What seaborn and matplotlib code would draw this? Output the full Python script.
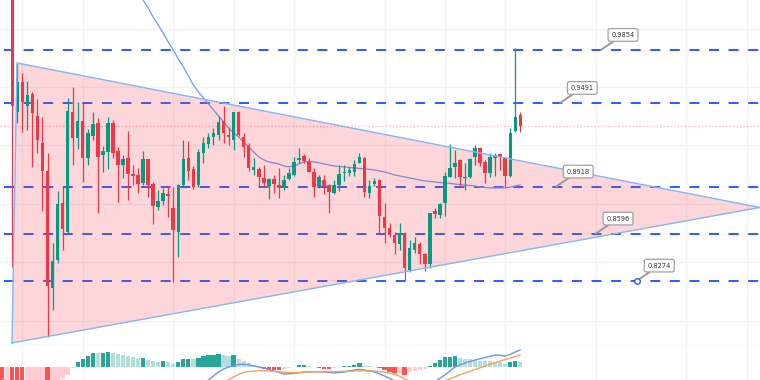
import numpy as np
import pandas as pd
import matplotlib.pyplot as plt
import seaborn as sns

sns.set_style('white')
plt.rcParams['font.family'] = ['DejaVu Sans']
plt.rcParams['lines.scale_dashes'] = False

# candle index of the first bar (two bars sit above the visible price range)
first_idx = -2

opens = [1.090, 1.080, 1.060, 0.9431, 0.9633, 0.9473, 0.9551, 0.9402, 0.9215, 0.9025,
         0.8222, 0.8416, 0.8808, 0.8610, 0.9431, 0.9249, 0.9370, 0.9116, 0.9267, 0.9352,
         0.9135, 0.9158, 0.9352, 0.9164, 0.9066, 0.9112, 0.9003, 0.8998, 0.8945, 0.9105,
         0.8936, 0.8781, 0.8822, 0.8868, 0.8770, 0.8610, 0.8929, 0.9112, 0.9037, 0.8929,
         0.9151, 0.9208, 0.9256, 0.9272, 0.9370, 0.9272, 0.9238, 0.9431, 0.9260, 0.9203,
         0.9032, 0.9037, 0.8975, 0.8922, 0.8970, 0.8929, 0.8907, 0.8968, 0.8998, 0.9101,
         0.9128, 0.9089, 0.9021, 0.8922, 0.8964, 0.8929, 0.8872, 0.8929, 0.9010, 0.9010,
         0.9021, 0.9082, 0.9112, 0.8872, 0.8934, 0.8964, 0.8712, 0.8637, 0.8587, 0.8523,
         0.8603, 0.8347, 0.8484, 0.8525, 0.8457, 0.8386, 0.8753, 0.8724, 0.8804, 0.8986,
         0.9055, 0.9101, 0.8975, 0.8986, 0.9119, 0.9181, 0.9089, 0.9014, 0.9112, 0.9142,
         0.9112, 0.8991, 0.9301, 0.9409]
highs = [1.100, 1.090, 1.070, 0.9763, 0.9694, 0.9642, 0.9564, 0.9518, 0.9397, 0.9151,
         0.8530, 0.8890, 0.8918, 0.9523, 0.9603, 0.9496, 0.9489, 0.9311, 0.9431, 0.9386,
         0.9197, 0.9393, 0.9375, 0.9192, 0.9135, 0.9301, 0.9066, 0.9044, 0.9162, 0.9107,
         0.8952, 0.8895, 0.8907, 0.8922, 0.8918, 0.8936, 0.9238, 0.9231, 0.9059, 0.9174,
         0.9260, 0.9288, 0.9318, 0.9402, 0.9470, 0.9329, 0.9430, 0.9438, 0.9283, 0.9215,
         0.9112, 0.9051, 0.9066, 0.8975, 0.8998, 0.9044, 0.8998, 0.9044, 0.9123, 0.9181,
         0.9142, 0.9112, 0.9044, 0.8998, 0.8998, 0.8935, 0.8964, 0.9066, 0.9066, 0.9055,
         0.9101, 0.9146, 0.9123, 0.8964, 0.8975, 0.8970, 0.8804, 0.8667, 0.8610, 0.8671,
         0.8606, 0.8553, 0.8575, 0.8541, 0.8461, 0.8740, 0.8770, 0.8804, 0.9020, 0.9210,
         0.9169, 0.9105, 0.9078, 0.9112, 0.9203, 0.9188, 0.9101, 0.9146, 0.9146, 0.9151,
         0.9123, 0.9318, 0.9870, 0.9431]
lows = [1.070, 1.050, 0.8368, 0.9352, 0.9294, 0.9306, 0.9055, 0.9151, 0.8751, 0.7890,
        0.8073, 0.8397, 0.8484, 0.8600, 0.9066, 0.9174, 0.8952, 0.9066, 0.9238, 0.8740,
        0.9020, 0.9037, 0.9112, 0.8815, 0.8975, 0.8827, 0.8929, 0.8872, 0.8929, 0.8849,
        0.8660, 0.8758, 0.8792, 0.8712, 0.8267, 0.8438, 0.8922, 0.8964, 0.8900, 0.8918,
        0.9078, 0.9180, 0.9203, 0.9238, 0.9215, 0.9203, 0.9169, 0.9265, 0.9119, 0.9027,
        0.8998, 0.8922, 0.8918, 0.8831, 0.8872, 0.8838, 0.8895, 0.8964, 0.8991, 0.9082,
        0.9078, 0.9015, 0.8849, 0.8910, 0.8868, 0.8735, 0.8868, 0.8890, 0.8959, 0.8991,
        0.8991, 0.9078, 0.8849, 0.8838, 0.8922, 0.8603, 0.8534, 0.8575, 0.8457, 0.8484,
        0.8279, 0.8336, 0.8461, 0.8388, 0.8340, 0.8359, 0.8705, 0.8701, 0.8717, 0.8982,
        0.8975, 0.8918, 0.8895, 0.8975, 0.9066, 0.9060, 0.8945, 0.8982, 0.8991, 0.9032,
        0.8918, 0.8986, 0.9294, 0.9294]
closes = [1.080, 1.060, 0.9470, 0.9633, 0.9496, 0.9546, 0.9425, 0.9238, 0.9027, 0.8240,
          0.8411, 0.8799, 0.8628, 0.9436, 0.9253, 0.9370, 0.9116, 0.9283, 0.9347, 0.9119,
          0.9162, 0.9356, 0.9151, 0.9066, 0.9105, 0.9003, 0.8991, 0.8934, 0.9105, 0.8929,
          0.8786, 0.8822, 0.8872, 0.8854, 0.8621, 0.8929, 0.9107, 0.9027, 0.8918, 0.9158,
          0.9215, 0.9256, 0.9288, 0.9359, 0.9283, 0.9256, 0.9427, 0.9272, 0.9192, 0.9044,
          0.9055, 0.8986, 0.8941, 0.8968, 0.8936, 0.8911, 0.8964, 0.9010, 0.9089, 0.9116,
          0.9094, 0.9021, 0.8914, 0.8982, 0.8922, 0.8884, 0.8929, 0.9005, 0.9016, 0.9032,
          0.9071, 0.9123, 0.8884, 0.8922, 0.8957, 0.8717, 0.8633, 0.8587, 0.8534, 0.8598,
          0.8359, 0.8496, 0.8530, 0.8457, 0.8388, 0.8736, 0.8731, 0.8797, 0.8993, 0.9048,
          0.9082, 0.8982, 0.8986, 0.9107, 0.9181, 0.9078, 0.9014, 0.9119, 0.9135, 0.9119,
          0.8991, 0.9288, 0.9393, 0.9334]

# moving average (starts above the chart)
ma_values = [np.nan] * 24 + [
    1.0422, 1.0367, 1.0313, 1.0251, 1.0196, 1.0142, 1.0080, 1.0025, 0.9970, 0.9909,
    0.9854, 0.9792, 0.9738, 0.9676, 0.9614, 0.9566, 0.9525, 0.9484, 0.9443, 0.9402,
    0.9361, 0.9320, 0.9286, 0.9258, 0.9224, 0.9190, 0.9155, 0.9121, 0.9101, 0.9087,
    0.9080, 0.9073, 0.9059, 0.9053, 0.9059, 0.9073, 0.9087, 0.9090, 0.9087, 0.9080,
    0.9073, 0.9066, 0.9059, 0.9056, 0.9053, 0.9049, 0.9046, 0.9043, 0.9039, 0.9036,
    0.9032, 0.9025, 0.9018, 0.9008, 0.8998, 0.8991, 0.8984, 0.8977, 0.8970, 0.8963,
    0.8957, 0.8953, 0.8950, 0.8946, 0.8943, 0.8940, 0.8936, 0.8932, 0.8929, 0.8926,
    0.8922, 0.8915, 0.8912, 0.8909, 0.8909, 0.8909, 0.8909, 0.8915, 0.8922, 0.8929]

# MACD pane (units of 1e-4)
macd_hist = [-16, -15, -19, -22, -24, -23, -21.5, -20, -18.5, -19.5,
             -17.5, -14, -11.8, -7.3, -0.5, 5.6, 8.3, 11.7, 14, 13.9,
             14.2, 15.3, 14, 13, 12.3, 11.3, 10, 9, 9.7, 7.3,
             6.3, 5.7, 5.9, 5.6, 3.3, 5, 8, 8.3, 8, 9.7,
             11.3, 12.3, 12.5, 13, 12.3, 11.7, 11.9, 8.3, 6.7, 4,
             2.3, 1.3, -1.3, -2.5, -2.8, -3, -1.5, -0.8, 0.3, 2.3,
             2.5, 1, 0.4, -0.3, -1.2, -1.3, -0.6, 0.3, 1.2, 1.3,
             2, 4, 1.5, 1.2, 0.8, -0.5, -3, -5, -6, -5.5,
             -7.7, -5, -4, -3, -2, 1, 4, 7.3, 10, 10.7,
             11, 9, 8.3, 8, 7.3, 6.7, 6.3, 6, 5.7, 5.2,
             3.5, 5, 6, 5.5]
macd_line = [-30, -32, -35, -37, -39, -40, -40, -40, -40, -41,
             -40, -38, -36, -33, -31, -29, -27, -25, -23.5, -22.5,
             -21.5, -20.5, -20, -19.5, -19.5, -19.5, -19.5, -19.5, -19.5, -19.5,
             -19.5, -19.5, -19.5, -19.5, -20, -19.5, -18.5, -18, -17.5, -16.5,
             -15, -12.7, -8.7, -4.7, -1.7, 0.3, 1.8, 2.8, 3.0, 2.3,
             1.3, 0.3, -0.7, -2.2, -3.7, -5.2, -6.7, -6.5, -6.2, -5.5,
             -4.7, -4.5, -4.4, -4.5, -4.7, -5.2, -5.7, -5.2, -4.7, -3.7,
             -2.7, -2.0, -2.7, -3.7, -4.7, -6.5, -8.7, -11, -13.7, -15,
             -17, -18, -19, -19.5, -20, -18.5, -14.7, -11, -7.7, -3.7,
             0.3, 2.3, 4.3, 5.8, 7.3, 8.5, 9.8, 11, 12.3, 12,
             11.3, 13, 15.3, 17.3]
signal_line = [-11.5, -14, -17, -20, -23, -26, -28, -30, -32, -33,
               -34, -35, -35, -35, -34, -33, -32, -31, -30, -29.5,
               -29, -28.5, -28, -27.5, -27, -26.5, -26, -25.5, -25, -25,
               -25, -25, -25, -25, -25, -25, -25, -24.5, -24, -23,
               -21.5, -19.5, -17.5, -15.5, -14, -12.5, -9.5, -7, -5.2, -4.3,
               -3.8, -3.5, -3.5, -3.7, -4, -4.5, -5, -5.3, -5.5, -5.3,
               -5, -4.8, -4.6, -4.5, -4.5, -4.4, -4.3, -4.2, -4, -3.9,
               -3.7, -3.6, -3.5, -3.6, -3.7, -4.2, -5, -6, -7, -9,
               -11.5, -14, -16, -17, -18, -18.5, -18, -16.5, -14, -11.5,
               -9.5, -7.5, -5.7, -4, -2.3, -0.5, 1.2, 3, 4.7, 6.3,
               7.8, 9.2, 10.8, 12.3]

# horizontal levels and where their callouts are anchored (candle index)
levels = [0.9854, 0.9491, 0.8918, 0.8596, 0.8274]
label_idx = [117.0, 108.9, 108.1, 116.0, 124.2]

# triangle drawing (candle index, price)
tri_idx = [-0.06, 0.93, 148.65]
tri_price = [0.7847, 0.9765, 0.8775]

# time grid (candle index) and price grid
time_grid = [2, 14, 32, 44, 56, 74, 86, 98, 116, 134, 146]
price_grid = [0.80, 0.84, 0.88, 0.92, 0.96, 1.00]

GREEN = '#089981'
RED = '#f23645'
LEVEL_BLUE = '#2962ff'
GRID = '#f0f3fa'

df = pd.DataFrame({'open': opens, 'high': highs, 'low': lows, 'close': closes,
                   'ma': ma_values, 'hist': macd_hist, 'macd': macd_line,
                   'signal': signal_line})
df['idx'] = np.arange(first_idx, first_idx + len(df))

fig = plt.figure(figsize=(7.6, 3.8), dpi=100)
ax = fig.add_axes([0, 35 / 380, 1, 345 / 380])
ax2 = fig.add_axes([0, 0, 1, 35 / 380])

# grids
for g in time_grid:
    ax.axvline(g, color=GRID, lw=1, zorder=0)
    ax2.axvline(g, color=GRID, lw=1, zorder=0)
for p in price_grid:
    ax.axhline(p, color=GRID, lw=1, zorder=0)

# dashed levels
for lvl in levels:
    ax.plot([-1.65, 150], [lvl, lvl], color=LEVEL_BLUE, lw=1.45,
            dashes=(7.2, 6.9), dash_capstyle='butt', zorder=2)

# moving average
sns.lineplot(data=df, x='idx', y='ma', ax=ax, color='#6b9af2', lw=0.9,
             zorder=2.5, legend=False)

# triangle fill (over levels, under candles)
ax.fill(tri_idx, tri_price, facecolor=RED, alpha=0.2, edgecolor='none', zorder=3)

# candles
up = df['close'] >= df['open']
colors = np.where(up, GREEN, RED)
ax.vlines(df['idx'], df['low'], df['high'], colors=colors, lw=0.9, zorder=4)
body = (df['close'] - df['open']).abs().clip(lower=0.0005)
ax.bar(df['idx'], body, bottom=df[['open', 'close']].min(axis=1), width=0.7,
       color=colors, linewidth=0, zorder=5)

# triangle outline
ax.plot(tri_idx + tri_idx[:1], tri_price + tri_price[:1], color='#85b4f7',
        lw=1, zorder=6)

# last price line
ax.axhline(closes[-1], color=RED, alpha=0.35, lw=1, ls=(0, (1, 1.5)), zorder=3)

# callouts
for lvl, k in zip(levels, label_idx):
    ax.annotate(f'{lvl:.4f}', xy=(k, lvl), xytext=(16, 10.8),
                textcoords='offset points', ha='center', va='center',
                fontsize=4.8, color='#333333',
                bbox=dict(boxstyle='round,pad=0.5,rounding_size=0.3', fc='white',
                          ec='#a0a0a0', lw=0.9),
                arrowprops=dict(arrowstyle='-', color='#9a9a9a', lw=1.4,
                                shrinkA=0, shrinkB=0),
                zorder=8)
ax.plot(label_idx[-1], levels[-1], 'o', ms=4, mfc='white', mec=LEVEL_BLUE,
        mew=1, zorder=9)

# MACD pane
hist = df['hist'].to_numpy()
prev = np.concatenate([[hist[0]], hist[:-1]])
hcolors = np.where(hist >= 0,
                   np.where(hist >= prev, '#26a69a', '#b2dfdb'),
                   np.where(hist <= prev, '#ff5252', '#ffcdd2'))
ax2.bar(df['idx'], hist, width=0.85, color=hcolors, linewidth=0, zorder=2)
sns.lineplot(data=df, x='idx', y='macd', ax=ax2, color='#6a94f5', lw=1,
             zorder=3, legend=False)
sns.lineplot(data=df, x='idx', y='signal', ax=ax2, color='#f5a25d', lw=1,
             zorder=3, legend=False)

for a in (ax, ax2):
    a.set_xlim(-2.445, 148.65)
    a.set_xticks([])
    a.set_yticks([])
    a.set_xlabel('')
    a.set_ylabel('')
    for s in a.spines.values():
        s.set_visible(False)
ax.set_ylim(0.7833, 1.0196)
ax2.set_ylim(-12.7, 22.3)
ax.spines['bottom'].set_visible(True)
ax.spines['bottom'].set_color('#e0e3eb')
ax.spines['bottom'].set_linewidth(1)

fig.savefig('out.png', dpi=100)
